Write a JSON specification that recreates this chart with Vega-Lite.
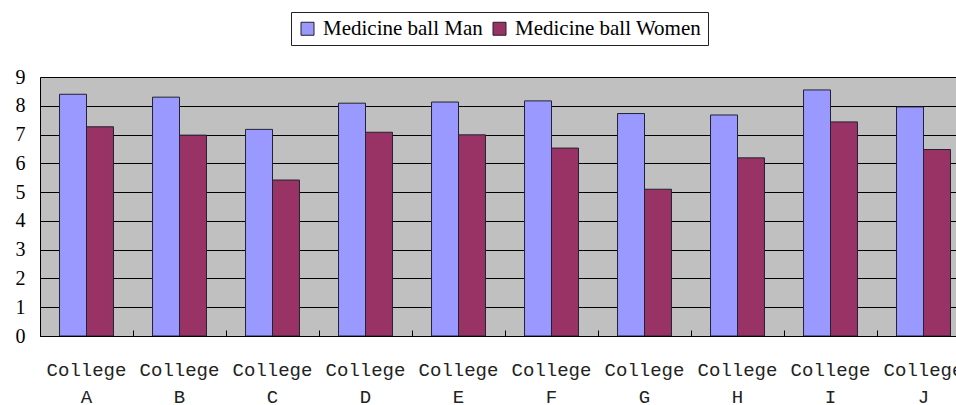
{
  "$schema": "https://vega.github.io/schema/vega-lite/v6.json",
  "width": 916,
  "height": 259,
  "autosize": {"type": "none"},
  "padding": {"left": 40, "top": 77, "right": 0, "bottom": 69},
  "background": "white",
  "data": {
    "values": [
      {"college": "A", "group": "Medicine ball Man", "value": 8.4},
      {"college": "A", "group": "Medicine ball Women", "value": 7.27},
      {"college": "B", "group": "Medicine ball Man", "value": 8.3},
      {"college": "B", "group": "Medicine ball Women", "value": 6.98},
      {"college": "C", "group": "Medicine ball Man", "value": 7.18},
      {"college": "C", "group": "Medicine ball Women", "value": 5.42},
      {"college": "D", "group": "Medicine ball Man", "value": 8.09},
      {"college": "D", "group": "Medicine ball Women", "value": 7.08},
      {"college": "E", "group": "Medicine ball Man", "value": 8.13},
      {"college": "E", "group": "Medicine ball Women", "value": 6.99},
      {"college": "F", "group": "Medicine ball Man", "value": 8.17},
      {"college": "F", "group": "Medicine ball Women", "value": 6.53},
      {"college": "G", "group": "Medicine ball Man", "value": 7.73},
      {"college": "G", "group": "Medicine ball Women", "value": 5.1},
      {"college": "H", "group": "Medicine ball Man", "value": 7.68},
      {"college": "H", "group": "Medicine ball Women", "value": 6.19},
      {"college": "I", "group": "Medicine ball Man", "value": 8.55},
      {"college": "I", "group": "Medicine ball Women", "value": 7.44},
      {"college": "J", "group": "Medicine ball Man", "value": 7.96},
      {"college": "J", "group": "Medicine ball Women", "value": 6.48}
    ]
  },
  "mark": {"type": "bar", "stroke": "#222233", "strokeWidth": 1},
  "encoding": {
    "x": {
      "field": "college",
      "type": "nominal",
      "sort": null,
      "scale": {"range": [0, 930], "paddingInner": 0.42, "paddingOuter": 0.21},
      "axis": {
        "title": null,
        "labelExpr": "isValid(datum.value) ? ['College', datum.value] : ''",
        "labelAngle": 0,
        "labelFont": "Liberation Mono",
        "labelFontSize": 19,
        "labelColor": "#222222",
        "labelLineHeight": 27,
        "labelPadding": 30,
        "bandPosition": -0.3611,
        "ticks": true,
        "tickSize": -6,
        "tickWidth": 1,
        "tickColor": "black",
        "domainColor": "black",
        "grid": false,
        "zindex": 1
      }
    },
    "xOffset": {"field": "group", "sort": ["Medicine ball Man", "Medicine ball Women"]},
    "y": {
      "field": "value",
      "type": "quantitative",
      "scale": {"domain": [0, 9]},
      "axis": {
        "values": [0, 1, 2, 3, 4, 5, 6, 7, 8, 9],
        "title": null,
        "grid": true,
        "gridColor": "black",
        "gridOpacity": 1,
        "ticks": false,
        "domainColor": "black",
        "labelFont": "Liberation Serif",
        "labelFontSize": 20,
        "labelColor": "black",
        "labelPadding": 15
      }
    },
    "color": {
      "field": "group",
      "type": "nominal",
      "scale": {"domain": ["Medicine ball Man", "Medicine ball Women"], "range": ["#9999FF", "#993366"]},
      "legend": {
        "title": null,
        "orient": "none",
        "legendX": 251,
        "legendY": -65,
        "direction": "horizontal",
        "padding": 6,
        "strokeColor": "#222222",
        "fillColor": "white",
        "symbolType": "square",
        "symbolSize": 169,
        "symbolStrokeColor": "#222222",
        "symbolStrokeWidth": 1,
        "symbolOpacity": 1,
        "labelFont": "Liberation Serif",
        "labelFontSize": 21,
        "labelColor": "black",
        "labelOffset": 5,
        "columnPadding": 6,
        "labelLimit": 400
      }
    }
  },
  "config": {
    "view": {"fill": "#C0C0C0", "stroke": "#A0A0A0"}
  }
}
